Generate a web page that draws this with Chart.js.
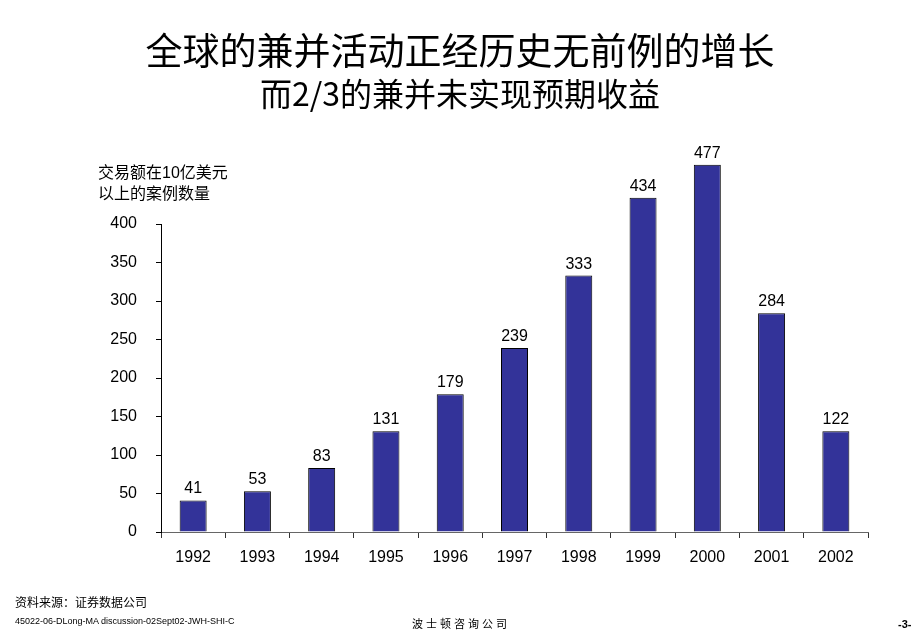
<!DOCTYPE html>
<html>
<head>
<meta charset="utf-8">
<script src="https://cdn.jsdelivr.net/npm/chart.js@4"></script>
<style>
  body { margin: 0; background: #fff; }
  #wrap { position: relative; width: 920px; height: 637px; overflow: hidden; }
  #wrap div { position: absolute; white-space: nowrap; color: #000; }
  .title1 { left: 0; width: 920px; text-align: center; top: 31px; font: 37px/1 "Noto Sans CJK SC", sans-serif; }
  .title2 { left: 0; width: 920px; text-align: center; top: 76px; font: 32px/1 "Noto Sans CJK SC", sans-serif; }
  .caption { left: 98px; top: 162px; font: 16px/21px "Liberation Sans", "Noto Sans CJK SC", sans-serif; }
  .source { left: 15px; top: 596px; font: 12px/1 "Noto Sans CJK SC", sans-serif; }
  .docid { left: 15px; top: 617px; font: 9px/1 "Liberation Sans", sans-serif; }
  .firm { left: 412px; top: 618px; font: 11px/1 "Noto Sans CJK SC", sans-serif; letter-spacing: 3px; }
  .page { left: 898px; top: 619px; font: bold 11px/1 "Liberation Sans", sans-serif; }
</style>
</head>
<body>
<div id="wrap">
  <canvas id="deals" width="920" height="637"></canvas>
  <div class="title1">全球的兼并活动正经历史无前例的增长</div>
  <div class="title2">而2/3的兼并未实现预期收益</div>
  <div class="caption">交易额在10亿美元<br>以上的案例数量</div>
  <div class="source">资料来源：证券数据公司</div>
  <div class="docid">45022-06-DLong-MA discussion-02Sept02-JWH-SHI-C</div>
  <div class="firm">波士顿咨询公司</div>
  <div class="page">-3-</div>
</div>
<script>
// DATA
const years = ["1992", "1993", "1994", "1995", "1996", "1997", "1998", "1999", "2000", "2001", "2002"];
// numbers printed above the bars
const dealCounts = [41, 53, 83, 131, 179, 239, 333, 434, 477, 284, 122];
// bar heights as drawn in the original (the 2002 bar is drawn level with 1995)
const barHeights = [41, 53, 83, 131, 179, 239, 333, 434, 477, 284, 131];
const yTicks = [0, 50, 100, 150, 200, 250, 300, 350, 400];

const barColor = "#333399";

// numbers above bars
const valueLabels = {
  id: "valueLabels",
  afterDatasetsDraw(chart) {
    const ctx = chart.ctx;
    const meta = chart.getDatasetMeta(0);
    ctx.save();
    ctx.font = '16px "Liberation Sans", Arial, sans-serif';
    ctx.fillStyle = "#000";
    ctx.textAlign = "center";
    ctx.textBaseline = "alphabetic";
    meta.data.forEach((bar, i) => {
      ctx.fillText(String(dealCounts[i]), bar.x, bar.y - 7);
    });
    ctx.restore();
  }
};

const tickFont = { family: '"Liberation Sans", Arial, sans-serif', size: 16 };

new Chart(document.getElementById("deals"), {
  type: "bar",
  data: {
    labels: years,
    datasets: [{
      data: barHeights,
      backgroundColor: barColor,
      borderColor: "#000",
      borderWidth: 1,
      categoryPercentage: 1,
      barPercentage: 0.42,
      clip: false
    }]
  },
  options: {
    responsive: false,
    animation: false,
    layout: { padding: { top: 224, left: 100, right: 52, bottom: 55 } },
    plugins: {
      legend: { display: false },
      tooltip: { enabled: false }
    },
    scales: {
      x: {
        grid: { display: true, drawOnChartArea: false, offset: true, tickLength: 6, color: "#333" },
        border: { display: true, color: "#666", width: 1 },
        ticks: { font: tickFont, color: "#000", padding: 10, maxRotation: 0 },
        afterFit: (s) => { s.height = 50; }
      },
      y: {
        min: 0,
        max: 400,
        afterBuildTicks: (s) => { s.ticks = yTicks.map(v => ({ value: v })); },
        grid: { display: true, drawOnChartArea: false, tickLength: 5, color: "#000" },
        border: { display: true, color: "#000", width: 1 },
        ticks: { font: tickFont, color: "#000", padding: 19 },
        afterFit: (s) => { s.width = 61; }
      }
    }
  },
  plugins: [valueLabels]
});
</script>
</body>
</html>
